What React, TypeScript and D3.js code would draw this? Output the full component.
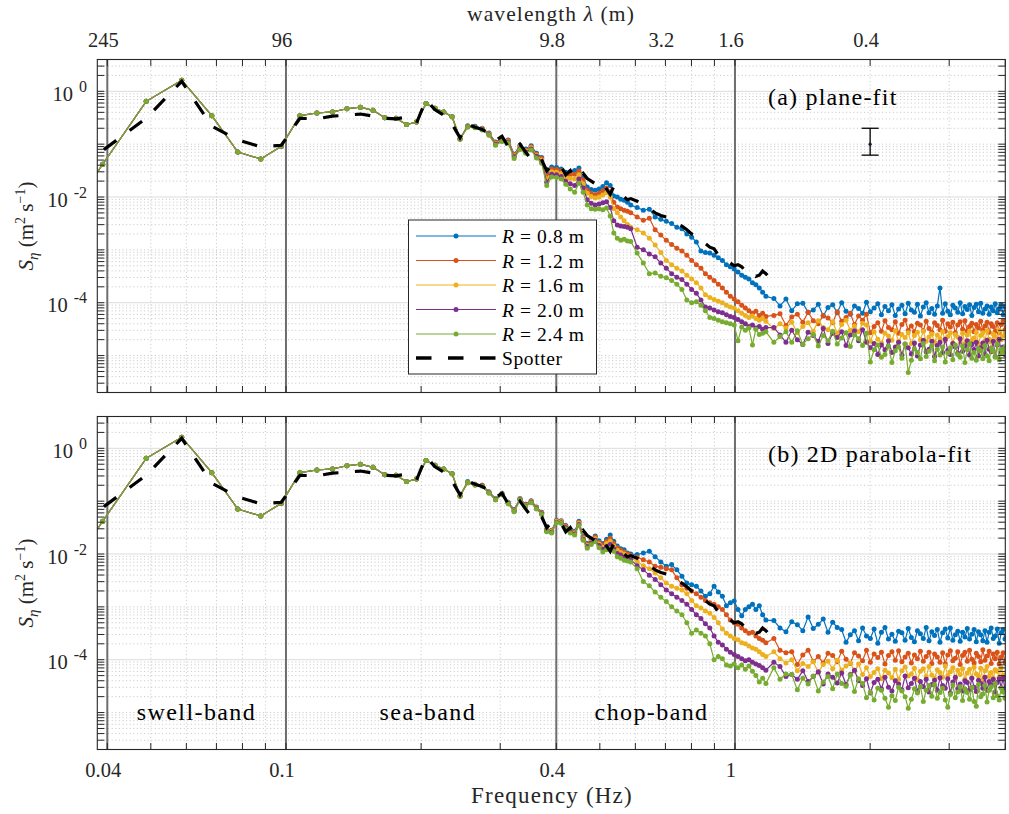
import React from "react";
import * as d3 from "d3";

// ---------- data (log10 of spectral density, m^2 s^-1) ----------
const DF = 0.009765625; // frequency bin width (Hz)
const LOW_BINS = d3.range(3, 26);
const MID_BINS = d3.range(26, 61).concat(d3.range(62, 121, 2));
const HIGH_BINS = d3.range(125, 410, 4);
const SPOT_BINS = d3.range(3, 61).concat(d3.range(62, 127, 2));

const R_LABELS = ["0.8", "1.2", "1.6", "2.0", "2.4"];
const COLORS = ["#0072BD", "#D95319", "#EDB120", "#7E2F8E", "#77AC30"];

// shared low-frequency part (all R, both fits)
const lowBand = [-2.95, -1.38, -0.19, 0.21, -0.46, -1.15, -1.28, -1.04, -0.46, -0.41, -0.39, -0.33, -0.30, -0.36, -0.50, -0.51, -0.63, -0.58, -0.23, -0.32, -0.39, -0.48, -0.90];

const spotter = [
  -1.64, -1.12, -0.51, 0.19, -0.66, -0.92, -1.05, -1.02, -0.51, -0.52, -0.47, -0.45, -0.43, -0.47, -0.51, -0.52, -0.49, -0.60, -0.16, -0.35, -0.45, -0.62, -0.88,
  -0.62, -0.68, -0.72, -0.80, -0.93, -0.85, -1.05, -1.12, -1.00, -1.15, -1.28, -1.22, -1.30, -1.50, -1.40, -1.38, -1.42, -1.58, -1.50, -1.65, -1.62, -1.55, -1.65, -1.70, -1.75, -1.78, -1.72, -1.85, -1.95, -1.80, -1.88, -1.95, -2.00, -2.05, -2.03,
  -2.08, -2.15, -2.22, -2.30, -2.35, -2.38, -2.45, -2.50, -2.55, -2.62, -2.70, -2.75, -2.85, -2.88, -2.95, -2.98, -3.10, -3.12, -3.18, -3.25, -3.30, -3.28, -3.32, -3.40, -3.45, -3.42, -3.50, -3.48, -3.40, -3.45, -3.52, -3.62, -3.70,
];

// (a) plane-fit
const planeMid08 = [-0.65, -0.66, -0.70, -0.79, -0.96, -0.90, -0.92, -1.19, -1.02, -1.09, -1.03, -1.17, -1.25, -1.55, -1.43, -1.44, -1.47, -1.53, -1.52, -1.50, -1.45, -1.62, -1.81, -1.86, -1.87, -1.85, -1.80, -1.73, -1.78, -1.98, -2.00, -2.04, -2.06, -2.10, -2.15,
  -2.20, -2.25, -2.23, -2.38, -2.42, -2.46, -2.50, -2.57, -2.60, -2.70, -2.76, -2.85, -3.02, -3.05, -3.06, -3.10, -3.15, -3.20, -3.28, -3.32, -3.36, -3.42, -3.48, -3.52, -3.55, -3.62, -3.66, -3.72, -3.80, -3.88];
const planeMid12 = [-0.66, -0.67, -0.71, -0.80, -0.97, -0.91, -0.93, -1.20, -1.04, -1.11, -1.05, -1.19, -1.27, -1.60, -1.47, -1.48, -1.51, -1.58, -1.58, -1.57, -1.51, -1.68, -1.87, -1.93, -1.96, -1.93, -1.88, -1.83, -1.90, -2.10, -2.19, -2.22, -2.25, -2.27, -2.30,
  -2.38, -2.44, -2.40, -2.62, -2.72, -2.82, -2.90, -2.97, -3.02, -3.10, -3.20, -3.28, -3.35, -3.45, -3.52, -3.58, -3.65, -3.72, -3.80, -3.88, -3.93, -3.98, -4.05, -4.10, -4.15, -4.20, -4.16, -4.24, -4.20, -4.26];
const planeMid16 = [-0.66, -0.68, -0.71, -0.81, -0.99, -0.92, -0.95, -1.22, -1.06, -1.13, -1.07, -1.21, -1.30, -1.66, -1.52, -1.53, -1.56, -1.63, -1.65, -1.66, -1.58, -1.75, -1.93, -1.99, -2.02, -2.00, -1.96, -1.92, -2.00, -2.22, -2.30, -2.38, -2.45, -2.52, -2.57,
  -2.62, -2.68, -2.78, -2.91, -3.05, -3.20, -3.28, -3.35, -3.40, -3.48, -3.55, -3.62, -3.72, -3.85, -3.90, -3.94, -3.97, -4.00, -4.05, -4.08, -4.10, -4.15, -4.20, -4.24, -4.28, -4.25, -4.30, -4.33, -4.30, -4.35];
const planeMid20 = [-0.67, -0.68, -0.72, -0.82, -1.00, -0.94, -0.96, -1.24, -1.08, -1.15, -1.09, -1.23, -1.33, -1.72, -1.57, -1.58, -1.61, -1.70, -1.75, -1.78, -1.66, -1.83, -2.05, -2.12, -2.15, -2.13, -2.11, -2.09, -2.20, -2.45, -2.53, -2.55, -2.56, -2.57, -2.60,
  -2.95, -3.00, -3.08, -3.13, -3.25, -3.35, -3.45, -3.52, -3.56, -3.65, -3.75, -3.82, -3.95, -4.08, -4.10, -4.14, -4.17, -4.19, -4.23, -4.26, -4.28, -4.32, -4.36, -4.40, -4.45, -4.42, -4.48, -4.45, -4.50, -4.47];
const planeMid24 = [-0.68, -0.69, -0.73, -0.83, -1.02, -0.95, -0.98, -1.27, -1.10, -1.17, -1.11, -1.26, -1.36, -1.78, -1.62, -1.63, -1.66, -1.76, -1.85, -1.91, -1.74, -1.91, -2.15, -2.22, -2.23, -2.22, -2.24, -2.21, -2.36, -2.68, -2.78, -2.82, -2.80, -2.83, -2.84,
  -3.06, -3.25, -3.45, -3.44, -3.50, -3.53, -3.58, -3.65, -3.75, -3.95, -4.00, -3.98, -4.05, -4.15, -4.28, -4.30, -4.33, -4.36, -4.38, -4.40, -4.42, -4.72, -4.46, -4.52, -4.48, -4.80, -4.50, -4.60, -4.58, -4.55];

const planeHigh08 = [-3.92, -4.06, -3.93, -4.15, -4.02, -4.01, -4.18, -4.14, -4.03, -4.25,
  -4.09, -4.04, -4.19, -4.00, -4.16, -4.22, -4.06, -4.11, -4.20, -3.99,
  -4.17, -4.10, -4.02, -4.23, -4.07, -4.15, -4.04, -4.24, -4.12, -4.05,
  -4.21, -4.01, -4.14, -4.18, -4.03, -4.25, -4.08, -4.00, -4.19, -4.11,
  -4.22, -4.06, -3.72, -4.20, -4.02, -4.16, -4.23, -4.05, -4.10, -4.18,
  -4.00, -4.21, -4.07, -4.13, -4.04, -4.24, -4.09, -4.03, -4.17, -4.01,
  -4.20, -4.12, -4.06, -4.22, -4.08, -4.15, -4.02, -4.19, -4.11, -4.04,
  -4.23, -4.07];
const planeHigh12 = [-4.24, -4.21, -4.43, -4.27, -4.22, -4.37, -4.18, -4.34, -4.40, -4.24,
  -4.29, -4.38, -4.17, -4.35, -4.28, -4.20, -4.41, -4.25, -4.33, -4.22,
  -4.57, -4.45, -4.38, -4.54, -4.34, -4.47, -4.51, -4.36, -4.58, -4.41,
  -4.33, -4.52, -4.44, -4.55, -4.39, -4.42, -4.53, -4.35, -4.49, -4.56,
  -4.38, -4.43, -4.51, -4.33, -4.54, -4.40, -4.46, -4.37, -4.57, -4.42,
  -4.36, -4.50, -4.34, -4.53, -4.45, -4.39, -4.55, -4.41, -4.48, -4.35,
  -4.52, -4.44, -4.37, -4.56, -4.40, -4.45, -4.54, -4.38, -4.57, -4.41,
  -4.34, -4.51];
const planeHigh16 = [-4.49, -4.40, -4.48, -4.37, -4.57, -4.45, -4.38, -4.54, -4.34, -4.47,
  -4.51, -4.36, -4.58, -4.41, -4.33, -4.52, -4.44, -4.55, -4.39, -4.42,
  -4.73, -4.55, -4.69, -4.76, -4.58, -4.63, -4.71, -4.53, -4.74, -4.60,
  -4.66, -4.57, -4.77, -4.62, -4.56, -4.70, -4.54, -4.73, -4.65, -4.59,
  -4.75, -4.61, -4.68, -4.55, -4.72, -4.64, -4.57, -4.76, -4.60, -4.65,
  -4.74, -4.58, -4.77, -4.61, -4.54, -4.71, -4.67, -4.56, -4.78, -4.62,
  -4.57, -4.72, -4.53, -4.69, -4.75, -4.59, -4.64, -4.73, -4.52, -4.70,
  -4.63, -4.55];
const planeHigh20 = [-4.47, -4.61, -4.75, -4.52, -4.70, -4.79, -4.56, -4.62, -4.73, -4.49,
  -4.77, -4.58, -4.66, -4.55, -4.81, -4.61, -4.53, -4.72, -4.51, -4.75,
  -4.85, -4.77, -4.98, -4.80, -4.89, -4.72, -4.94, -4.84, -4.75, -4.99,
  -4.78, -4.85, -4.97, -4.76, -5.01, -4.80, -4.71, -4.93, -4.88, -4.73,
  -5.02, -4.81, -4.75, -4.94, -4.69, -4.90, -4.98, -4.77, -4.84, -4.95,
  -4.68, -4.92, -4.82, -4.72, -4.99, -4.78, -4.89, -4.75, -5.01, -4.85,
  -4.76, -4.97, -4.71, -4.88, -4.93, -4.73, -5.02, -4.80, -4.69, -4.94,
  -4.84, -4.98];
const planeHigh24 = [-4.75, -4.64, -4.55, -4.75, -4.53, -4.79, -4.68, -4.60, -4.82, -4.62,
  -4.72, -4.54, -4.78, -4.67, -4.57, -4.83, -4.61, -4.68, -4.81, -4.58,
  -5.12, -4.89, -4.80, -5.03, -4.98, -4.82, -5.13, -4.91, -4.84, -5.05,
  -4.78, -5.32, -5.09, -4.87, -4.94, -5.06, -4.77, -5.02, -4.92, -4.81,
  -5.10, -4.88, -4.99, -4.84, -5.12, -4.95, -4.85, -5.08, -4.80, -4.98,
  -5.03, -4.82, -5.13, -4.89, -4.78, -5.05, -4.94, -5.09, -4.87, -4.91,
  -5.06, -4.81, -5.01, -5.10, -4.85, -4.92, -5.03, -4.78, -5.08, -4.88,
  -4.96, -4.84];

// (b) 2D parabola-fit
const paraMid08 = [-0.63, -0.68, -0.70, -0.82, -0.95, -0.85, -1.02, -1.16, -0.95, -1.06, -0.99, -1.11, -1.21, -1.53, -1.55, -1.36, -1.37, -1.46, -1.54, -1.57, -1.38, -1.66, -1.80, -1.72, -1.66, -1.75, -1.80, -1.72, -1.64, -1.76, -1.85, -1.90, -1.92, -1.98, -2.00,
  -2.01, -1.98, -1.95, -2.05, -2.15, -2.23, -2.20, -2.30, -2.42, -2.55, -2.58, -2.61, -2.70, -2.80, -2.75, -2.61, -2.72, -2.80, -2.98, -2.92, -2.89, -3.05, -3.17, -3.05, -3.00, -2.95, -3.05, -2.98, -3.15, -3.25];
const paraMid12 = [-0.64, -0.68, -0.70, -0.83, -0.96, -0.86, -1.03, -1.17, -0.96, -1.07, -1.00, -1.12, -1.22, -1.54, -1.56, -1.37, -1.38, -1.47, -1.55, -1.59, -1.40, -1.68, -1.82, -1.74, -1.68, -1.78, -1.83, -1.76, -1.70, -1.80, -1.88, -1.93, -1.96, -2.00, -2.03,
  -2.06, -2.11, -2.15, -2.23, -2.25, -2.28, -2.30, -2.45, -2.58, -2.65, -2.70, -2.75, -2.82, -2.88, -2.92, -2.95, -3.00, -3.05, -3.15, -3.25, -3.30, -3.33, -3.40, -3.45, -3.50, -3.48, -3.55, -3.60, -3.63, -3.68];
const paraMid16 = [-0.64, -0.69, -0.71, -0.83, -0.96, -0.86, -1.03, -1.18, -0.96, -1.08, -1.01, -1.13, -1.23, -1.55, -1.57, -1.38, -1.39, -1.49, -1.57, -1.60, -1.42, -1.70, -1.84, -1.77, -1.71, -1.81, -1.87, -1.80, -1.76, -1.85, -1.93, -1.97, -2.00, -2.04, -2.07,
  -2.14, -2.22, -2.28, -2.36, -2.45, -2.55, -2.61, -2.65, -2.68, -2.75, -2.88, -2.98, -3.02, -3.08, -3.12, -3.20, -3.30, -3.42, -3.50, -3.55, -3.60, -3.62, -3.68, -3.70, -3.74, -3.78, -3.80, -3.85, -3.90, -3.94];
const paraMid20 = [-0.65, -0.69, -0.71, -0.84, -0.97, -0.87, -1.04, -1.19, -0.97, -1.09, -1.02, -1.14, -1.24, -1.57, -1.59, -1.40, -1.41, -1.50, -1.58, -1.62, -1.44, -1.72, -1.86, -1.79, -1.74, -1.84, -1.91, -1.86, -1.82, -1.90, -1.99, -2.02, -2.06, -2.08, -2.11,
  -2.22, -2.30, -2.40, -2.48, -2.58, -2.68, -2.75, -2.82, -2.88, -2.95, -3.05, -3.15, -3.22, -3.32, -3.40, -3.55, -3.67, -3.72, -3.80, -3.86, -3.90, -3.94, -3.98, -4.02, -4.00, -4.05, -4.08, -4.11, -4.15, -4.20];
const paraMid24 = [-0.65, -0.70, -0.72, -0.85, -0.98, -0.88, -1.05, -1.20, -0.98, -1.10, -1.03, -1.15, -1.25, -1.58, -1.60, -1.41, -1.42, -1.52, -1.60, -1.64, -1.46, -1.74, -1.89, -1.82, -1.77, -1.88, -1.96, -1.92, -1.89, -1.95, -2.05, -2.08, -2.12, -2.13, -2.15,
  -2.28, -2.52, -2.60, -2.72, -2.82, -2.90, -3.00, -3.08, -3.15, -3.30, -3.50, -3.44, -3.50, -3.55, -3.70, -4.00, -3.94, -3.98, -4.10, -4.12, -4.08, -4.15, -4.10, -4.18, -4.12, -4.22, -4.30, -4.42, -4.35, -4.45];

const paraHigh08 = [-3.26, -3.40, -3.47, -3.28, -3.34, -3.45, -3.19, -3.41, -3.33, -3.23,
  -3.48, -3.29, -3.39, -3.43, -3.67, -3.53, -3.45, -3.64, -3.40, -3.55,
  -3.60, -3.42, -3.69, -3.48, -3.39, -3.61, -3.52, -3.65, -3.46, -3.49,
  -3.63, -3.41, -3.58, -3.66, -3.45, -3.51, -3.60, -3.39, -3.64, -3.47,
  -3.54, -3.43, -3.67, -3.49, -3.42, -3.59, -3.40, -3.63, -3.53, -3.46,
  -3.65, -3.48, -3.57, -3.41, -3.61, -3.52, -3.43, -3.66, -3.47, -3.53,
  -3.64, -3.45, -3.67, -3.48, -3.40, -3.60, -3.55, -3.42, -3.69, -3.49,
  -3.43, -3.61];
const paraHigh12 = [-3.60, -3.82, -3.87, -3.85, -4.09, -3.91, -3.82, -4.03, -3.94, -4.06,
  -3.88, -3.92, -4.04, -3.84, -3.99, -4.07, -3.87, -3.93, -4.02, -3.82,
  -4.05, -3.89, -3.96, -3.86, -4.08, -3.92, -3.85, -4.01, -3.83, -4.04,
  -3.95, -3.88, -4.06, -3.91, -3.98, -3.84, -4.03, -3.94, -3.86, -4.07,
  -3.89, -3.95, -4.05, -3.87, -4.08, -3.91, -3.83, -4.02, -3.97, -3.85,
  -4.09, -3.92, -3.86, -4.03, -3.82, -3.99, -4.06, -3.88, -3.94, -4.04,
  -3.81, -4.01, -3.93, -3.84, -4.07, -3.89, -3.98, -3.86, -4.08, -3.95,
  -3.87, -4.05];
const paraHigh16 = [-3.85, -3.98, -4.06, -4.00, -4.21, -4.07, -4.13, -4.04, -4.24, -4.09,
  -4.03, -4.17, -4.01, -4.20, -4.12, -4.06, -4.22, -4.08, -4.28, -4.15,
  -4.32, -4.24, -4.17, -4.36, -4.20, -4.25, -4.34, -4.18, -4.37, -4.21,
  -4.14, -4.31, -4.27, -4.16, -4.38, -4.22, -4.17, -4.32, -4.13, -4.29,
  -4.35, -4.19, -4.24, -4.33, -4.12, -4.30, -4.23, -4.15, -4.36, -4.20,
  -4.28, -4.17, -4.37, -4.25, -4.18, -4.34, -4.14, -4.27, -4.31, -4.16,
  -4.38, -4.21, -4.13, -4.32, -4.24, -4.35, -4.19, -4.22, -4.33, -4.15,
  -4.29, -4.36];
const paraHigh20 = [-4.05, -4.13, -4.32, -4.28, -4.37, -4.21, -4.41, -4.32, -4.23, -4.46,
  -4.27, -4.33, -4.44, -4.25, -4.47, -4.28, -4.20, -4.40, -4.49, -4.36,
  -4.63, -4.43, -4.37, -4.55, -4.33, -4.52, -4.59, -4.40, -4.46, -4.57,
  -4.31, -4.53, -4.45, -4.35, -4.60, -4.41, -4.51, -4.37, -4.61, -4.47,
  -4.39, -4.58, -4.34, -4.49, -4.54, -4.36, -4.63, -4.42, -4.33, -4.55,
  -4.46, -4.59, -4.40, -4.43, -4.57, -4.35, -4.52, -4.60, -4.39, -4.45,
  -4.54, -4.33, -4.58, -4.41, -4.48, -4.37, -4.61, -4.43, -4.36, -4.53,
  -4.34, -4.57];
const paraHigh24 = [-4.15, -4.37, -4.27, -4.28, -4.57, -4.35, -4.46, -4.31, -4.59, -4.42,
  -4.32, -4.55, -4.27, -4.45, -4.50, -4.29, -4.60, -4.36, -4.45, -4.72,
  -4.61, -4.76, -4.54, -4.58, -4.73, -4.90, -4.68, -4.77, -4.52, -4.59,
  -4.70, -4.92, -4.75, -4.55, -4.63, -4.51, -4.79, -4.58, -4.49, -4.69,
  -4.47, -4.73, -4.62, -4.54, -4.76, -4.90, -4.66, -4.48, -4.72, -4.61,
  -4.51, -4.77, -4.55, -4.62, -4.75, -4.52, -4.79, -4.88, -4.47, -4.70,
  -4.65, -4.49, -4.80, -4.58, -4.51, -4.72, -4.45, -4.68, -4.76, -4.54,
  -4.61, -4.73];

// axis ticks / labels
const X_TICKS = [0.04, 0.05, 0.06, 0.07, 0.08, 0.09, 0.1, 0.2, 0.3, 0.4, 0.5, 0.6, 0.7, 0.8, 0.9, 1, 2, 3, 4];
const X_MAJOR = [0.04, 0.1, 0.4, 1];
const X_LABELS = ["0.04", "0.1", "0.4", "1"];
const BAND_EDGES = [0.04, 0.1, 0.4, 1];
const TOP_TICKS = [0.04, 0.1, 0.4, 0.7, 1, 2];
const TOP_LABELS = ["245", "96", "9.8", "3.2", "1.6", "0.4"];
const Y_MAJOR_EXP = [0, -2, -4];
const BAND_NAMES = ["swell-band", "sea-band", "chop-band"];
const BAND_LABEL_F = [0.0632, 0.207, 0.652];
const ERR_F = 2, ERR_MID = 0.1, ERR_LO = 0.062, ERR_HI = 0.2;

// ---------- layout ----------
const W = 1009, H = 814;
const PL = 97.3, PR = 1005.3;
const PANELS = [
  { top: 59.5, bottom: 392.5, label: "(a) plane-fit", mids: [planeMid08, planeMid12, planeMid16, planeMid20, planeMid24], highs: [planeHigh08, planeHigh12, planeHigh16, planeHigh20, planeHigh24] },
  { top: 416.5, bottom: 749.5, label: "(b) 2D parabola-fit", mids: [paraMid08, paraMid12, paraMid16, paraMid20, paraMid24], highs: [paraHigh08, paraHigh12, paraHigh16, paraHigh20, paraHigh24] },
];
const FONT = "'Liberation Serif', 'Times New Roman', serif";
const AX = "#262626";

const x = d3.scaleLog().domain([0.038, 4]).range([PL, PR]);

function toPts(bins: number[], vals: number[]): [number, number][] {
  const n = Math.min(bins.length, vals.length);
  const out: [number, number][] = [];
  for (let i = 0; i < n; i++) out.push([bins[i] * DF, Math.pow(10, vals[i])]);
  return out;
}

const Y_ALL: number[] = [];
for (let e = -6; e <= 0; e++) for (let m = 1; m <= 9; m++) {
  const v = m * Math.pow(10, e);
  if (v > 2.05e-6 && v < 3.95) Y_ALL.push(v);
}

function Panel({ idx }: { idx: number }) {
  const P = PANELS[idx];
  const y = d3.scaleLog().domain([2e-6, 4]).range([P.bottom, P.top]);
  const line = d3.line<[number, number]>().x(d => x(d[0])).y(d => y(d[1]));
  const clip = `clip${idx}`;
  const series = COLORS.map((c, i) => {
    const pts = toPts(LOW_BINS, lowBand)
      .concat(toPts(MID_BINS, P.mids[i]))
      .concat(toPts(HIGH_BINS, P.highs[i]));
    return { c, pts };
  });
  const spot = toPts(SPOT_BINS, spotter);
  const majorY = Y_MAJOR_EXP.map(e => Math.pow(10, e));
  const isMajorY = (v: number) => majorY.some(m => Math.abs(Math.log10(v) - Math.log10(m)) < 1e-6);
  const isMajorX = (v: number) => X_MAJOR.some(m => Math.abs(v - m) < 1e-9);
  const cy = (P.top + P.bottom) / 2;
  return (
    <g>
      <defs>
        <clipPath id={clip}><rect x={PL} y={P.top} width={PR - PL} height={P.bottom - P.top} /></clipPath>
      </defs>
      <rect x={PL} y={P.top} width={PR - PL} height={P.bottom - P.top} fill="#fff" />
      {Y_ALL.filter(v => !isMajorY(v)).map((v, i) => (
        <line key={"ym" + i} x1={PL} x2={PR} y1={y(v)} y2={y(v)} stroke="#b8b8b8" strokeWidth={0.8} strokeDasharray="1 2.6" />
      ))}
      {X_TICKS.filter(v => !isMajorX(v)).map((v, i) => (
        <line key={"xm" + i} x1={x(v)} x2={x(v)} y1={P.top} y2={P.bottom} stroke="#b8b8b8" strokeWidth={0.8} strokeDasharray="1 2.6" />
      ))}
      {majorY.map((v, i) => (
        <line key={"yM" + i} x1={PL} x2={PR} y1={y(v)} y2={y(v)} stroke="#dcdcdc" strokeWidth={1} />
      ))}
      {BAND_EDGES.map((f, i) => (
        <line key={"be" + i} x1={x(f)} x2={x(f)} y1={P.top} y2={P.bottom} stroke="#6e6e6e" strokeWidth={2} />
      ))}
      <g clipPath={`url(#${clip})`}>
        {series.map((s, i) => (
          <g key={"s" + i}>
            <path d={line(s.pts) || ""} fill="none" stroke={s.c} strokeWidth={1.2} />
            {s.pts.map((p, j) => (
              <circle key={j} cx={x(p[0])} cy={y(p[1])} r={2.5} fill={s.c} />
            ))}
          </g>
        ))}
        <path d={line(spot) || ""} fill="none" stroke="#000" strokeWidth={3.2} strokeDasharray="15.5 16.5" />
      </g>
      {X_TICKS.map((v, i) => (
        <g key={"xt" + i}>
          <line x1={x(v)} x2={x(v)} y1={P.bottom} y2={P.bottom - 6.5} stroke={AX} strokeWidth={1} />
          <line x1={x(v)} x2={x(v)} y1={P.top} y2={P.top + 6.5} stroke={AX} strokeWidth={1} />
        </g>
      ))}
      {Y_ALL.map((v, i) => (
        <g key={"yt" + i}>
          <line x1={PL} x2={PL + 7} y1={y(v)} y2={y(v)} stroke={AX} strokeWidth={1} />
          <line x1={PR} x2={PR - 7} y1={y(v)} y2={y(v)} stroke={AX} strokeWidth={1} />
        </g>
      ))}
      <rect x={PL} y={P.top} width={PR - PL} height={P.bottom - P.top} fill="none" stroke={AX} strokeWidth={1.1} />
      {Y_MAJOR_EXP.map((e, i) => (
        <text key={"yl" + i} x={87} y={y(Math.pow(10, e)) + 9.5} textAnchor="end" fontFamily={FONT} fontSize={20.5} fill={AX}>
          10<tspan dx={6} dy={-9} fontSize={16}>{e === 0 ? "0" : "-" + String(-e)}</tspan>
        </text>
      ))}
      <text transform={`translate(33,${cy}) rotate(-90)`} textAnchor="middle" fontFamily={FONT} fontSize={21} fill={AX}>
        <tspan fontStyle="italic">S</tspan>
        <tspan fontStyle="italic" fontSize={15} dy={5}>η</tspan>
        <tspan dy={-5}>{" (m"}</tspan>
        <tspan fontSize={14} dy={-8}>2</tspan>
        <tspan dy={8}>{" s"}</tspan>
        <tspan fontSize={14} dy={-8}>−1</tspan>
        <tspan dy={8}>)</tspan>
      </text>
      <text x={768} y={P.top + 45.5} fontFamily={FONT} fontSize={24} letterSpacing={1.2} fill="#000">{P.label}</text>
      {idx === 0 && (
        <g>
          <line x1={x(ERR_F)} x2={x(ERR_F)} y1={y(ERR_LO)} y2={y(ERR_HI)} stroke="#000" strokeWidth={1.3} />
          <line x1={x(ERR_F) - 8.5} x2={x(ERR_F) + 8.5} y1={y(ERR_LO)} y2={y(ERR_LO)} stroke="#000" strokeWidth={1.3} />
          <line x1={x(ERR_F) - 8.5} x2={x(ERR_F) + 8.5} y1={y(ERR_HI)} y2={y(ERR_HI)} stroke="#000" strokeWidth={1.3} />
          <circle cx={x(ERR_F)} cy={y(ERR_MID)} r={1.6} fill="#14143c" />
        </g>
      )}
      {idx === 1 && BAND_NAMES.map((n, i) => (
        <text key={"bn" + i} x={x(BAND_LABEL_F[i])} y={720} textAnchor="middle" fontFamily={FONT} fontSize={24} letterSpacing={1.4} fill="#000">{n}</text>
      ))}
    </g>
  );
}

function Legend() {
  const bx = 408.5, by = 220, bw = 188, bh = 154;
  const rows = [236, 260.5, 285, 309.5, 334, 358];
  return (
    <g>
      <rect x={bx} y={by} width={bw} height={bh} fill="#fff" stroke={AX} strokeWidth={1} />
      {R_LABELS.map((r, i) => (
        <g key={i}>
          <line x1={416} x2={496} y1={rows[i]} y2={rows[i]} stroke={COLORS[i]} strokeWidth={1.2} />
          <circle cx={456} cy={rows[i]} r={2.5} fill={COLORS[i]} />
          <text x={502} y={rows[i] + 7} fontFamily={FONT} fontSize={19.5} letterSpacing={0.6} fill="#000">
            <tspan fontStyle="italic">R</tspan>{` = ${r} m`}
          </text>
        </g>
      ))}
      <line x1={416} x2={497} y1={rows[5]} y2={rows[5]} stroke="#000" strokeWidth={3.4} strokeDasharray="15.5 16.5" />
      <text x={502} y={rows[5] + 7} fontFamily={FONT} fontSize={19.5} letterSpacing={0.6} fill="#000">Spotter</text>
    </g>
  );
}

export default function App() {
  return (
    <svg width={W} height={H} viewBox={`0 0 ${W} ${H}`} style={{ position: "absolute", left: 0, top: 0, background: "#fff" }}>
      <rect x={0} y={0} width={W} height={H} fill="#fff" />
      <Panel idx={0} />
      <Panel idx={1} />
      <Legend />
      {TOP_TICKS.map((f, i) => (
        <text key={"tl" + i} x={x(f) - 4} y={46.7} textAnchor="middle" fontFamily={FONT} fontSize={20.5} fill={AX}>{TOP_LABELS[i]}</text>
      ))}
      <text x={551} y={21} textAnchor="middle" fontFamily={FONT} fontSize={21.5} letterSpacing={1.1} fill={AX}>
        wavelength <tspan fontStyle="italic">λ</tspan> (m)
      </text>
      {X_MAJOR.map((f, i) => (
        <text key={"bl" + i} x={x(f) - 4} y={777.3} textAnchor="middle" fontFamily={FONT} fontSize={20.5} fill={AX}>{X_LABELS[i]}</text>
      ))}
      <text x={552} y={803} textAnchor="middle" fontFamily={FONT} fontSize={23} letterSpacing={1.2} fill={AX}>Frequency (Hz)</text>
    </svg>
  );
}
